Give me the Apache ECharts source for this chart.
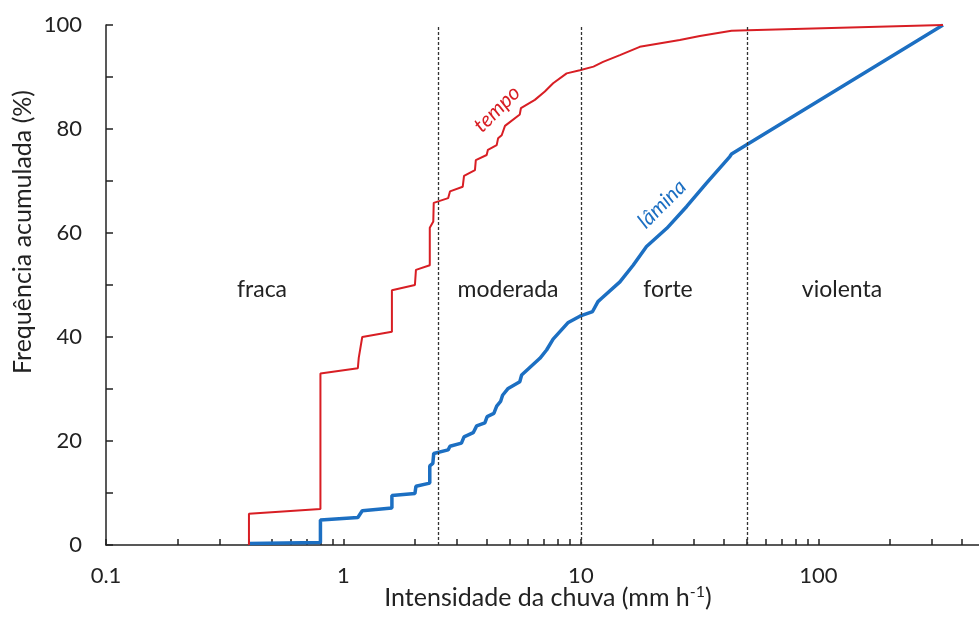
<!DOCTYPE html>
<html>
<head>
<meta charset="utf-8">
<script src="https://cdn.jsdelivr.net/npm/echarts@6/dist/echarts.min.js"></script>
<style>
html,body{margin:0;padding:0;background:#fff;}
#chart{width:979px;height:624px;}
</style>
</head>
<body>
<div id="chart"></div>
<script>
// ---- data ----
const tempoX = [0.4, 0.4, 0.8, 0.8, 1.15, 1.16, 1.2, 1.6, 1.6, 2.0, 2.02, 2.31, 2.31, 2.39, 2.40, 2.76, 2.81, 3.18, 3.22, 3.58, 3.61, 4.01, 4.06, 4.42, 4.48, 4.64, 4.79, 5.53, 5.59, 6.4, 7.05, 7.64, 8.71, 9.9, 11.3, 12.4, 14.6, 17.7, 26.1, 31.7, 43.1, 50.5, 335];
const tempoY = [0, 6, 6.9, 33, 34, 36, 40, 41, 49, 50, 52.9, 53.8, 61, 62.2, 65.8, 66.7, 68, 68.9, 71, 72.1, 74, 75, 76, 76.9, 78.2, 78.8, 80.6, 82.8, 84, 85.6, 87.2, 88.8, 90.7, 91.3, 92, 92.9, 94.2, 95.8, 97.1, 97.9, 98.9, 99.0, 100];

const laminaX = [0.4, 0.8, 0.8, 1.15, 1.2, 1.6, 1.6, 2.0, 2.02, 2.31, 2.31, 2.38, 2.4, 2.76, 2.81, 3.14, 3.22, 3.52, 3.64, 3.94, 4.03, 4.30, 4.42, 4.59, 4.68, 4.94, 5.53, 5.63, 6.72, 7.17, 7.64, 8.85, 9.9, 11.2, 11.8, 12.2, 14.6, 16.6, 18.9, 23.0, 27.9, 33.8, 42.4, 43.1, 50.5, 335];
const laminaY = [0.3, 0.5, 4.8, 5.3, 6.6, 7.1, 9.5, 9.9, 11.3, 11.9, 15.2, 15.7, 17.6, 18.3, 19.0, 19.6, 20.8, 21.6, 22.9, 23.5, 24.7, 25.3, 26.7, 27.6, 28.8, 30.1, 31.4, 32.7, 35.9, 37.5, 39.6, 42.8, 44.0, 44.9, 46.8, 47.4, 50.6, 53.8, 57.4, 60.9, 65.1, 69.6, 74.7, 75.2, 77.1, 100];

const classLimits = [2.5, 10, 50];
const classNames = ['fraca', 'moderada', 'forte', 'violenta'];
const xLabelValues = [0.1, 1, 10, 100];
const xTickValues = [0.1,0.2,0.3,0.4,0.5,0.6,0.7,0.8,0.9,1,2,3,4,5,6,7,8,9,10,20,30,40,50,60,70,80,90,100,200,300,400];
const yLabelValues = [0, 20, 40, 60, 80, 100];
const yTickValues = [0,10,20,30,40,50,60,70,80,90,100];

// ---- chart ----
const FONT = 'Lato';
const TXT = '#222';
const RED = '#d81e24';
const BLUE = '#1c6fc2';
const chart = echarts.init(document.getElementById('chart'), null, {renderer: 'canvas'});

const zip = (xs, ys) => xs.map((x, i) => [x, ys[i]]);

const regionPos = [262, 508, 668, 842];

const option = {
  animation: false,
  backgroundColor: '#fff',
  textStyle: {fontFamily: FONT},
  grid: {left: 106, right: 0, top: 25, bottom: 79, containLabel: false},
  xAxis: {
    type: 'log',
    logBase: 10,
    min: 0.1,
    max: 475,
    axisLine: {show: true, lineStyle: {color: '#222', width: 1.5}},
    axisTick: {show: true, inside: true, length: 6, customValues: xTickValues, lineStyle: {color: '#222', width: 1.5}},
    axisLabel: {customValues: xLabelValues, margin: 20, fontSize: 22, color: TXT, fontFamily: FONT,
      formatter: v => String(v)},
    splitLine: {show: false}
  },
  yAxis: {
    type: 'value',
    min: 0,
    max: 100,
    interval: 10,
    axisLine: {show: true, lineStyle: {color: '#222', width: 1.5}},
    axisTick: {show: true, inside: true, length: 7, customValues: yTickValues, lineStyle: {color: '#222', width: 1.5}},
    axisLabel: {customValues: yLabelValues, margin: 24, fontSize: 22, color: TXT, fontFamily: FONT},
    splitLine: {show: false}
  },
  series: [
    {
      name: 'lâmina',
      type: 'line',
      data: zip(laminaX, laminaY),
      showSymbol: false,
      symbol: 'none',
      lineStyle: {color: BLUE, width: 3.5},
      z: 3,
      markLine: {
        silent: true,
        symbol: 'none',
        label: {show: false},
        lineStyle: {color: '#333', type: [3, 2], width: 1.3},
        data: classLimits.map(v => ({xAxis: v}))
      }
    },
    {
      name: 'tempo',
      type: 'line',
      data: zip(tempoX, tempoY),
      showSymbol: false,
      symbol: 'none',
      lineStyle: {color: RED, width: 2},
      z: 4
    }
  ],
  graphic: classNames.map((t, i) => ({
    type: 'text', x: regionPos[i], y: 290,
    style: {text: t, fontSize: 23, fontFamily: FONT, fill: TXT, align: 'center', verticalAlign: 'middle'}
  })).concat([
    {type: 'text', x: 497, y: 109, rotation: Math.PI / 4, style: {text: 'tempo', fontSize: 21, fontStyle: 'italic', fontFamily: FONT, fill: RED, align: 'center', verticalAlign: 'middle'}},
    {type: 'text', x: 662, y: 204, rotation: Math.PI / 4, style: {text: 'lâmina', fontSize: 21, fontStyle: 'italic', fontFamily: FONT, fill: BLUE, align: 'center', verticalAlign: 'middle'}},
    {type: 'text', x: 23, y: 232, rotation: Math.PI / 2, style: {text: 'Frequência acumulada (%)', fontSize: 25, fontFamily: FONT, fill: TXT, align: 'center', verticalAlign: 'middle'}},
    {type: 'text', x: 548, y: 598, style: {
      text: 'Intensidade da chuva (mm h{sup|-1})',
      fontSize: 25, fontFamily: FONT, fill: TXT, align: 'center', verticalAlign: 'middle',
      rich: {sup: {fontSize: 16, fontFamily: FONT, fill: TXT, verticalAlign: 'top', padding: [0, 0, 12, 0]}}
    }}
  ])
};
chart.setOption(option);
</script>
</body>
</html>
